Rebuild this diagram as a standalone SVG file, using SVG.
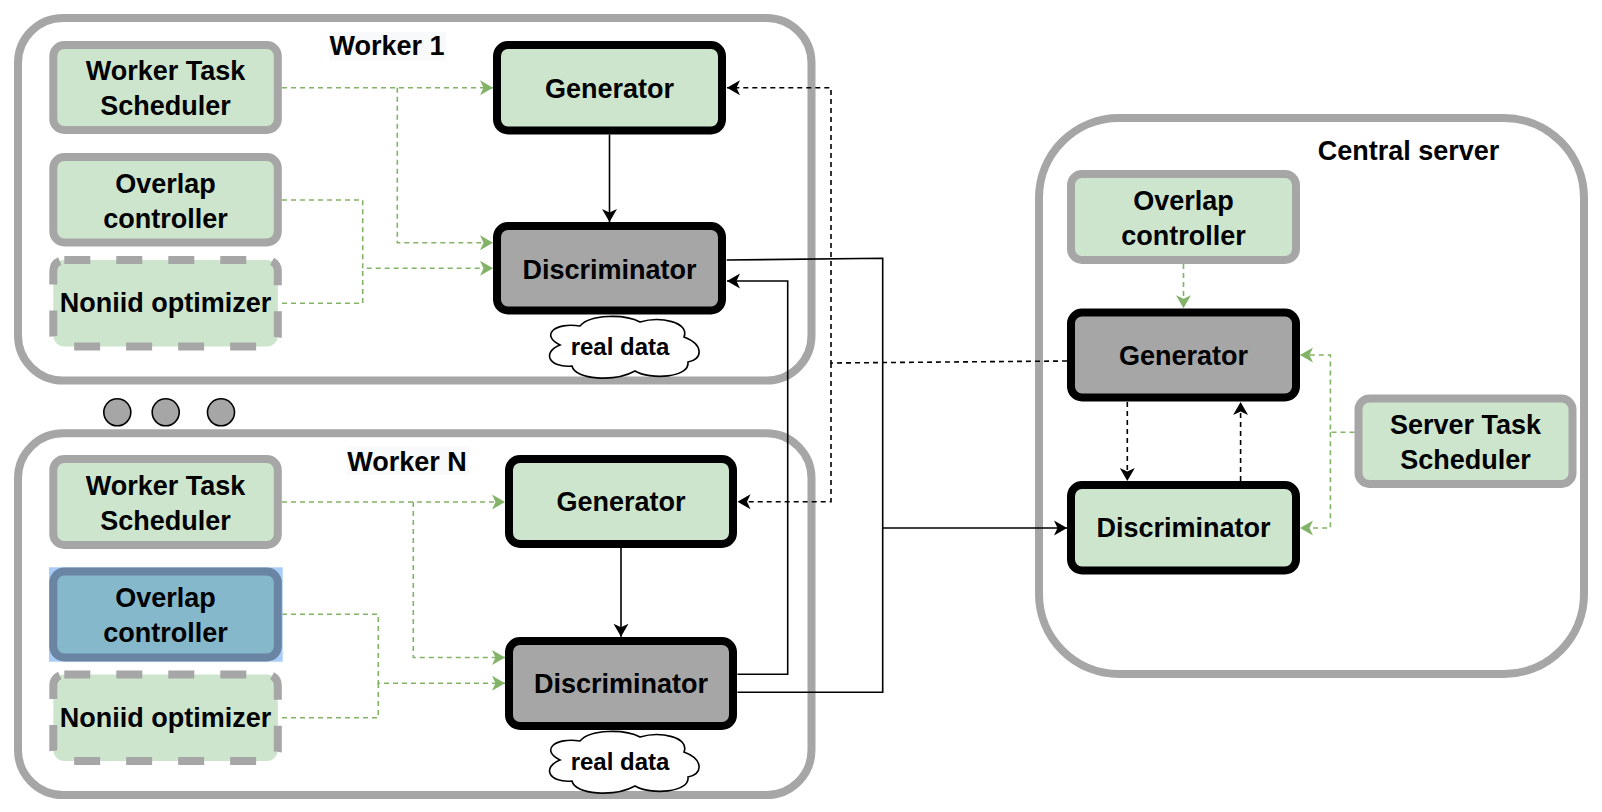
<svg xmlns="http://www.w3.org/2000/svg" width="1602" height="812" viewBox="0 0 1602 812">
<style>
.container{fill:#ffffff;stroke:#a6a6a6;stroke-width:8}
.gnode{fill:#cde5cc;stroke:#a6a6a6;stroke-width:8}
.gdash{fill:#cde5cc;stroke:#a6a6a6;stroke-width:8;stroke-dasharray:26 26}
.bnode{stroke:#000000;stroke-width:8}
.green{fill:#cde5cc}
.grey{fill:#a6a6a6}
.blue{fill:#86b8cb;stroke:#6a84a3;stroke-width:8}
.t{font-family:"Liberation Sans",Arial,Helvetica,sans-serif;font-weight:bold;font-size:27px;fill:#000000;text-anchor:middle}
.ts{font-family:"Liberation Sans",Arial,Helvetica,sans-serif;font-weight:bold;font-size:24px;fill:#000000;text-anchor:middle}
.lbg{fill:#f8f9fa}
.edge{fill:none;stroke:#000000;stroke-width:1.6}
.edash{fill:none;stroke:#000000;stroke-width:1.6;stroke-dasharray:5 4}
.gedge{fill:none;stroke:#82b366;stroke-width:1.6;stroke-dasharray:5 4}
.cloud{fill:#ffffff;stroke:#000000;stroke-width:1.6}
.dot{fill:#a6a6a6;stroke:#000000;stroke-width:1.6}
</style>
<defs>
<marker id="ab" viewBox="-14 -8 15 16" refX="0" refY="0" markerWidth="15" markerHeight="16" markerUnits="userSpaceOnUse" orient="auto">
<path d="M0,0 L-13,-7.5 L-9.5,0 L-13,7.5 Z" fill="#000000"/>
</marker>
<marker id="ag" viewBox="-14 -8 15 16" refX="0" refY="0" markerWidth="15" markerHeight="16" markerUnits="userSpaceOnUse" orient="auto">
<path d="M0,0 L-13,-7.5 L-9.5,0 L-13,7.5 Z" fill="#82b366"/>
</marker>
<path id="cloudShape" d="M560,345 C540,335 555,322 580,326 C590,314 625,314 640,322 C660,316 690,322 684,337 C705,345 702,360 688,362 C690,378 650,380 635,371 C615,382 575,380 572,366 C548,368 542,352 560,345 Z"/>
</defs>
<rect width="1602" height="812" fill="#ffffff"/>

<g id="worker1">
<rect class="container" x="18" y="18" width="793.5" height="362.5" rx="45"/>
<rect class="lbg" x="329.3" y="31.7" width="116.7" height="29"/>
<text class="t" x="387" y="55">Worker 1</text>
</g>
<g id="workerN">
<rect class="container" x="18" y="433.3" width="793.5" height="361.7" rx="45"/>
<rect class="lbg" x="346.7" y="446.7" width="122.3" height="28.3"/>
<text class="t" x="407" y="470.7">Worker N</text>
</g>
<g id="central">
<rect class="container" x="1039" y="118" width="545" height="556" rx="80"/>
<text class="t" x="1408.5" y="160">Central server</text>
</g>
<g id="dots">
<circle class="dot" cx="117.3" cy="412.3" r="13.5"/>
<circle class="dot" cx="165.7" cy="412.3" r="13.5"/>
<circle class="dot" cx="221" cy="412.3" r="13.5"/>
</g>

<g id="connectors">
<!-- Worker 1 -->
<path class="gedge" d="M282,87.7 H493" marker-end="url(#ag)"/>
<path class="gedge" d="M397.3,87.7 V242.7 H493" marker-end="url(#ag)"/>
<path class="gedge" d="M282,200 H362.7 V268.3 H493" marker-end="url(#ag)"/>
<path class="gedge" d="M282,303.3 H362.7 V268.3"/>
<path class="edge" d="M609.5,134.5 V222" marker-end="url(#ab)"/>
<!-- Worker N -->
<path class="gedge" d="M282,502 H505" marker-end="url(#ag)"/>
<path class="gedge" d="M413.3,502 V657.5 H505" marker-end="url(#ag)"/>
<path class="gedge" d="M282,614.3 H378.3 V683.3 H505" marker-end="url(#ag)"/>
<path class="gedge" d="M282,717.7 H378.3 V683.3"/>
<path class="edge" d="M621,548 V636.7" marker-end="url(#ab)"/>
<!-- central generator to worker generators -->
<path class="edash" d="M1067,361 L831,363 V87.7 H727" marker-end="url(#ab)"/>
<path class="edash" d="M831,363 V501.7 H737.5" marker-end="url(#ab)"/>
<!-- discriminators -->
<path class="edge" d="M726.7,260 L882.7,258.3 V528 H1067" marker-end="url(#ab)"/>
<path class="edge" d="M737.5,674.3 H787.7 V281 H727" marker-end="url(#ab)"/>
<path class="edge" d="M737.5,692.3 H882.7 V528"/>
<!-- central -->
<path class="gedge" d="M1183.5,264 V308.3" marker-end="url(#ag)"/>
<path class="edash" d="M1127.3,402 V481" marker-end="url(#ab)"/>
<path class="edash" d="M1240.6,481 V402" marker-end="url(#ab)"/>
<path class="gedge" d="M1354.5,432.3 H1330.4 V355 H1300" marker-end="url(#ag)"/>
<path class="gedge" d="M1330.4,432.3 V528 H1300" marker-end="url(#ag)"/>
</g>

<g id="w1-task-scheduler">
<rect class="gnode" x="53.3" y="45" width="224.5" height="85" rx="11"/>
<text class="t" x="165.5" y="80">Worker Task</text>
<text class="t" x="165.5" y="115">Scheduler</text>
</g>
<g id="w1-overlap-controller">
<rect class="gnode" x="53.3" y="157" width="224.5" height="85.5" rx="11"/>
<text class="t" x="165.5" y="192.5">Overlap</text>
<text class="t" x="165.5" y="227.5">controller</text>
</g>
<g id="w1-noniid-optimizer">
<rect class="gdash" x="53.3" y="260" width="224.5" height="86.5" rx="11"/>
<text class="t" x="165.5" y="312">Noniid optimizer</text>
</g>
<g id="w1-generator">
<rect class="bnode green" x="497" y="45" width="225" height="85.5" rx="11"/>
<text class="t" x="609.5" y="97.5">Generator</text>
</g>
<g id="w1-discriminator">
<rect class="bnode grey" x="497" y="226" width="225" height="84.5" rx="11"/>
<text class="t" x="609.5" y="278.5">Discriminator</text>
</g>
<g id="w1-real-data">
<use href="#cloudShape" class="cloud"/>
<text class="ts" x="620" y="355">real data</text>
</g>

<g id="wN-task-scheduler">
<rect class="gnode" x="53.3" y="459" width="224.5" height="86" rx="11"/>
<text class="t" x="165.5" y="494.5">Worker Task</text>
<text class="t" x="165.5" y="529.5">Scheduler</text>
</g>
<g id="wN-overlap-controller">
<rect x="49" y="567.3" width="233.7" height="94.4" fill="#a8ccf7"/>
<rect class="blue" x="53.3" y="571.5" width="224.5" height="86" rx="11"/>
<text class="t" x="165.5" y="607">Overlap</text>
<text class="t" x="165.5" y="642">controller</text>
</g>
<g id="wN-noniid-optimizer">
<rect class="gdash" x="53.3" y="674.5" width="224.5" height="86.5" rx="11"/>
<text class="t" x="165.5" y="726.5">Noniid optimizer</text>
</g>
<g id="wN-generator">
<rect class="bnode green" x="509" y="459" width="224" height="85" rx="11"/>
<text class="t" x="621" y="511">Generator</text>
</g>
<g id="wN-discriminator">
<rect class="bnode grey" x="509" y="641" width="224" height="85" rx="11"/>
<text class="t" x="621" y="693">Discriminator</text>
</g>
<g id="wN-real-data">
<use href="#cloudShape" class="cloud" transform="translate(0,415)"/>
<text class="ts" x="620" y="770">real data</text>
</g>

<g id="c-overlap-controller">
<rect class="gnode" x="1071" y="174" width="225" height="86" rx="11"/>
<text class="t" x="1183.5" y="209.5">Overlap</text>
<text class="t" x="1183.5" y="244.5">controller</text>
</g>
<g id="c-generator">
<rect class="bnode grey" x="1071" y="312.5" width="225" height="85" rx="11"/>
<text class="t" x="1183.5" y="364.5">Generator</text>
</g>
<g id="c-discriminator">
<rect class="bnode green" x="1071" y="485" width="225" height="85.5" rx="11"/>
<text class="t" x="1183.5" y="537">Discriminator</text>
</g>
<g id="c-task-scheduler">
<rect class="gnode" x="1358.5" y="398.5" width="214" height="85.5" rx="11"/>
<text class="t" x="1465.5" y="433.5">Server Task</text>
<text class="t" x="1465.5" y="468.5">Scheduler</text>
</g>
</svg>
